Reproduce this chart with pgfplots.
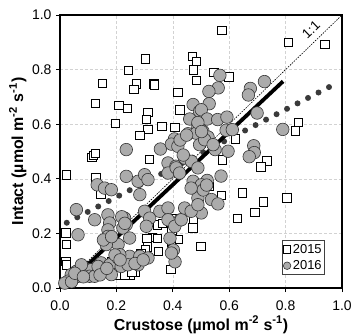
\documentclass[border=0pt]{standalone}
\usepackage{fontspec}
\setmainfont{Liberation Sans}
\usepackage{pgfplots}
\pgfplotsset{compat=1.18}
\definecolor{circfill}{HTML}{ABABAB}
\definecolor{circedge}{HTML}{333333}
\definecolor{dotcol}{HTML}{3A3A3A}
\begin{document}
\begin{tikzpicture}
\begin{axis}[name=ax, scale only axis, width=282bp, height=273bp,
  xmin=0, xmax=1, ymin=0, ymax=1,
  xtick={0,0.2,0.4,0.6,0.8,1}, ytick={0,0.2,0.4,0.6,0.8,1},
  /pgf/number format/assume math mode=true,
  /pgf/number format/fixed, /pgf/number format/fixed zerofill, /pgf/number format/precision=1,
  tick label style={font=\fontsize{14}{15}\selectfont, black},
  xticklabel style={yshift=-5bp},
  yticklabel style={xshift=-1bp},
  tick align=outside, xtick pos=left, ytick pos=left,
  major tick length=4bp, tick style={black, line width=0.8pt},
  grid=major, major grid style={densely dashed, gray!35, line width=0.5pt},
  axis line style={line width=1.3pt, black},
  xlabel={Crustose (µmol m\textsuperscript{-2} s\textsuperscript{-1})},
  ylabel={Intact (µmol m\textsuperscript{-2} s\textsuperscript{-1})},
  label style={font=\bfseries\fontsize{16}{18}\selectfont},
  xlabel style={at={(axis description cs:0.5,-0.135)}, anchor=center},
  ylabel style={at={(axis description cs:-0.15,0.5)}, anchor=center},
  legend style={at={(axis cs:0.94,0.048)}, anchor=south east, draw=darkgray, line width=0.8pt,
    font=\fontsize{13}{14}\selectfont, inner xsep=1pt, inner ysep=1.5pt, row sep=2pt},
  legend cell align=left,
]
\addplot[only marks, mark=square*, mark size=4.3pt, mark options={fill=white, draw=black, line width=0.6pt},
  legend image post style={mark size=3.6pt}]
coordinates {(0.303,0.839)(0.242,0.797)(0.150,0.750)(0.271,0.747)(0.261,0.728)(0.332,0.748)(0.334,0.744)(0.469,0.849)(0.483,0.830)(0.473,0.800)(0.483,0.761)(0.418,0.717)(0.125,0.676)(0.209,0.669)(0.239,0.658)(0.311,0.643)(0.306,0.618)(0.196,0.603)(0.424,0.653)(0.312,0.581)(0.360,0.592)(0.408,0.588)(0.282,0.560)(0.112,0.479)(0.118,0.486)(0.125,0.493)(0.316,0.471)
(0.574,0.944)(0.810,0.900)(0.940,0.892)(0.545,0.790)(0.598,0.774)(0.845,0.607)(0.835,0.575)(0.622,0.546)(0.575,0.469)(0.734,0.465)(0.712,0.444)
(0.646,0.348)(0.721,0.315)(0.805,0.330)(0.572,0.340)(0.690,0.278)(0.629,0.255)(0.528,0.373)(0.499,0.153)(0.472,0.250)(0.470,0.221)(0.420,0.178)(0.393,0.068)
(0.022,0.415)(0.127,0.406)(0.144,0.345)(0.020,0.203)(0.022,0.160)(0.021,0.098)(0.022,0.084)(0.345,0.232)(0.328,0.186)(0.345,0.182)(0.401,0.256)(0.395,0.168)(0.310,0.150)(0.303,0.140)(0.348,0.134)(0.286,0.125)(0.182,0.098)(0.265,0.059)(0.247,0.049)(0.212,0.049)(0.307,0.182)(0.363,0.237)(0.396,0.212)(0.230,0.048)(0.254,0.060)(0.398,0.139)};
\addlegendentry{2015}
\addplot[only marks, mark=*, mark size=6.3pt, mark options={fill=circfill, draw=circedge, line width=0.6pt},
  legend image post style={mark size=3.8pt}]
coordinates {(0.235,0.507)(0.356,0.509)(0.472,0.672)(0.495,0.647)(0.460,0.619)(0.487,0.592)(0.454,0.565)(0.483,0.567)(0.406,0.546)(0.395,0.527)(0.418,0.519)(0.495,0.525)
(0.567,0.779)(0.725,0.756)(0.561,0.733)(0.528,0.720)(0.675,0.731)(0.668,0.707)(0.529,0.675)(0.501,0.653)(0.699,0.641)(0.522,0.619)(0.559,0.617)(0.592,0.626)(0.507,0.574)(0.525,0.553)(0.790,0.581)(0.589,0.578)(0.611,0.580)(0.687,0.521)(0.689,0.496)(0.671,0.481)(0.596,0.501)(0.550,0.507)(0.513,0.543)(0.543,0.525)(0.489,0.606)
(0.383,0.458)(0.411,0.446)(0.442,0.476)(0.466,0.464)(0.489,0.440)(0.472,0.391)(0.571,0.410)(0.522,0.394)(0.501,0.378)(0.537,0.324)(0.560,0.308)(0.489,0.330)(0.501,0.275)(0.426,0.249)(0.402,0.237)(0.390,0.182)(0.402,0.139)(0.408,0.096)(0.508,0.359)(0.520,0.377)
(0.437,0.487)(0.426,0.542)(0.449,0.560)(0.502,0.573)
(0.235,0.409)(0.277,0.391)(0.300,0.415)(0.312,0.397)(0.132,0.378)(0.158,0.366)(0.182,0.360)(0.283,0.342)(0.383,0.421)(0.412,0.440)(0.424,0.421)(0.465,0.366)
(0.058,0.287)(0.123,0.250)(0.170,0.268)(0.176,0.238)(0.170,0.213)(0.229,0.256)(0.235,0.232)(0.223,0.220)(0.247,0.183)(0.206,0.159)(0.164,0.159)(0.170,0.189)(0.300,0.281)(0.318,0.256)(0.306,0.226)(0.354,0.281)(0.383,0.293)(0.383,0.250)(0.407,0.226)(0.430,0.250)(0.442,0.293)(0.465,0.281)(0.489,0.305)(0.395,0.128)(0.064,0.195)
(0.154,0.176)(0.183,0.188)(0.219,0.261)(0.230,0.237)
(0.040,0.049)(0.058,0.061)(0.087,0.073)(0.111,0.067)(0.105,0.043)(0.146,0.092)(0.146,0.055)(0.176,0.085)(0.182,0.049)(0.206,0.110)(0.217,0.079)(0.247,0.116)(0.241,0.085)(0.277,0.085)(0.283,0.116)(0.312,0.110)(0.212,0.122)(0.028,0.025)(0.017,0.018)(0.064,0.043)(0.123,0.043)(0.076,0.085)(0.135,0.079)
(0.195,0.121)(0.213,0.103)(0.266,0.090)(0.295,0.103)(0.041,0.023)(0.053,0.054)(0.083,0.041)(0.142,0.048)(0.166,0.072)};
\addlegendentry{2016}
\addplot[forget plot, black, line width=0.6pt, dash pattern=on 1.5pt off 1.2pt] coordinates {(0,0)(1,1)};
\addplot[forget plot, dotcol, line width=6bp, line cap=round, dash pattern=on 0pt off 11.81bp] coordinates {(0.024,0.239)(0.954,0.736)};
\addplot[forget plot, black, line width=3.8bp] coordinates {(0.022,0.012)(0.791,0.757)};
\node[rotate=44, font=\fontsize{13.5}{14}\selectfont] at (axis cs:0.89,0.946) {1:1};
\end{axis}
\pgfresetboundingbox
\path[use as bounding box] ([shift={(-60bp,-48bp)}]ax.south west) rectangle ([shift={(13bp,15bp)}]ax.north east);
\end{tikzpicture}
\end{document}
